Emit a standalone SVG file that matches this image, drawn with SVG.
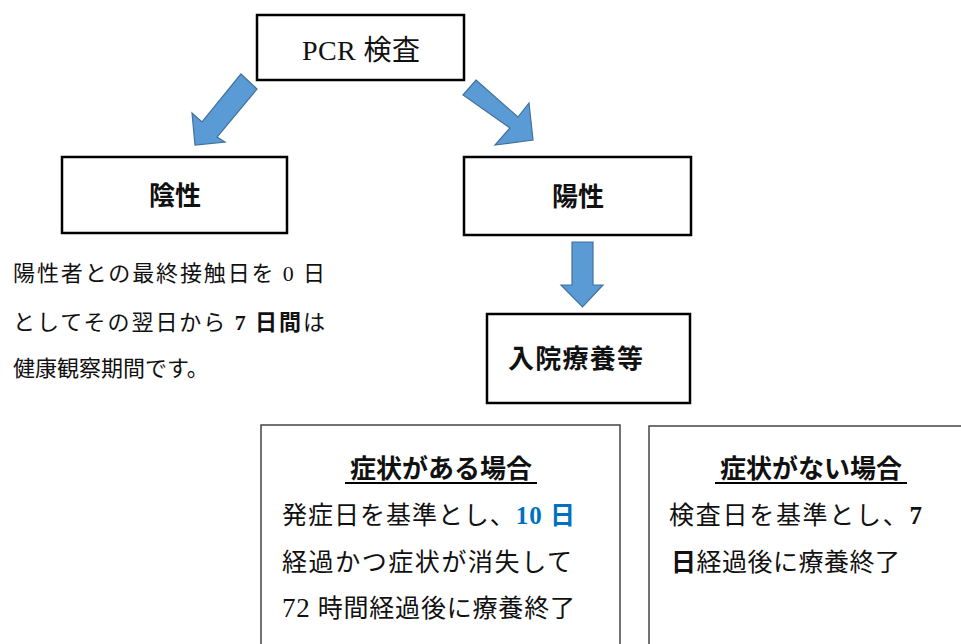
<svg xmlns="http://www.w3.org/2000/svg" width="961" height="644" viewBox="0 0 961 644">
<style>
.box{fill:#fff;stroke:#000;stroke-width:2.5}
.box2{fill:#fff;stroke:#444;stroke-width:1.5}
.arrow{fill:#5B9BD5;stroke:#41719C;stroke-width:1.2;stroke-linejoin:miter}
text{font-family:"Liberation Serif","Noto Sans CJK JP",serif;fill:#111}
.head{font-size:26px;font-weight:bold;text-anchor:middle}
.body{font-size:22px}
.body2{font-size:25px}
.b{font-weight:bold}
.ul{stroke:#000;stroke-width:2.2}
</style>
<rect width="961" height="644" fill="#fff"/>
<g id="connectors">
<polygon class="arrow" points="241,74 257,89 217,137 225,142 195,145 192,113 202,122"/>
<polygon class="arrow" points="476,80 518,117 529,103 533,140 495,145 510,128 463,95"/>
<polygon class="arrow" points="572,242 593,242 593,285 603,285 582.5,307 561,285 572,285"/>
</g>
<g id="pcr">
<rect class="box" x="257" y="15" width="207" height="65"/>
<text x="361" y="60" style="font-size:28px;text-anchor:middle" textLength="118" lengthAdjust="spacing">PCR 検査</text>
</g>
<g id="negative">
<rect class="box" x="62" y="157" width="225" height="76"/>
<text class="head" x="175" y="205">陰性</text>
</g>
<g id="negative-note">
<text class="body" x="13" y="281" textLength="312" lengthAdjust="spacing">陽性者との最終接触日を 0 日</text>
<text class="body" x="13" y="330" textLength="312" lengthAdjust="spacing">としてその翌日から <tspan class="b">7 日間</tspan>は</text>
<text class="body" x="13" y="376">健康観察期間です。</text>
</g>
<g id="positive">
<rect class="box" x="464" y="157" width="227" height="78"/>
<text class="head" x="578" y="206">陽性</text>
</g>
<g id="hospital">
<rect class="box" x="487" y="314" width="203" height="89"/>
<text class="head" style="text-anchor:start" x="508" y="368" textLength="135" lengthAdjust="spacing">入院療養等</text>
</g>
<g id="symptomatic">
<rect class="box2" x="261" y="425" width="359" height="240"/>
<text class="head" x="441" y="478">症状がある場合</text>
<line class="ul" x1="345" y1="483" x2="537" y2="483"/>
<text class="body2" x="282" y="524" textLength="293" lengthAdjust="spacing">発症日を基準とし、<tspan class="b" style="fill:#0070C0">10 日</tspan></text>
<text class="body2" x="282" y="571" textLength="290" lengthAdjust="spacing">経過かつ症状が消失して</text>
<text class="body2" x="282" y="617" textLength="293" lengthAdjust="spacing"><tspan style="font-size:27px">72</tspan> 時間経過後に療養終了</text>
</g>
<g id="asymptomatic">
<rect class="box2" x="649" y="426" width="330" height="240"/>
<text class="head" x="811" y="478">症状がない場合</text>
<line class="ul" x1="715" y1="483" x2="907" y2="483"/>
<text class="body2" x="669" y="524" textLength="253" lengthAdjust="spacing">検査日を基準とし、<tspan class="b">7</tspan></text>
<text class="body2" x="671" y="571" textLength="229" lengthAdjust="spacing"><tspan class="b">日</tspan>経過後に療養終了</text>
</g>
</svg>
